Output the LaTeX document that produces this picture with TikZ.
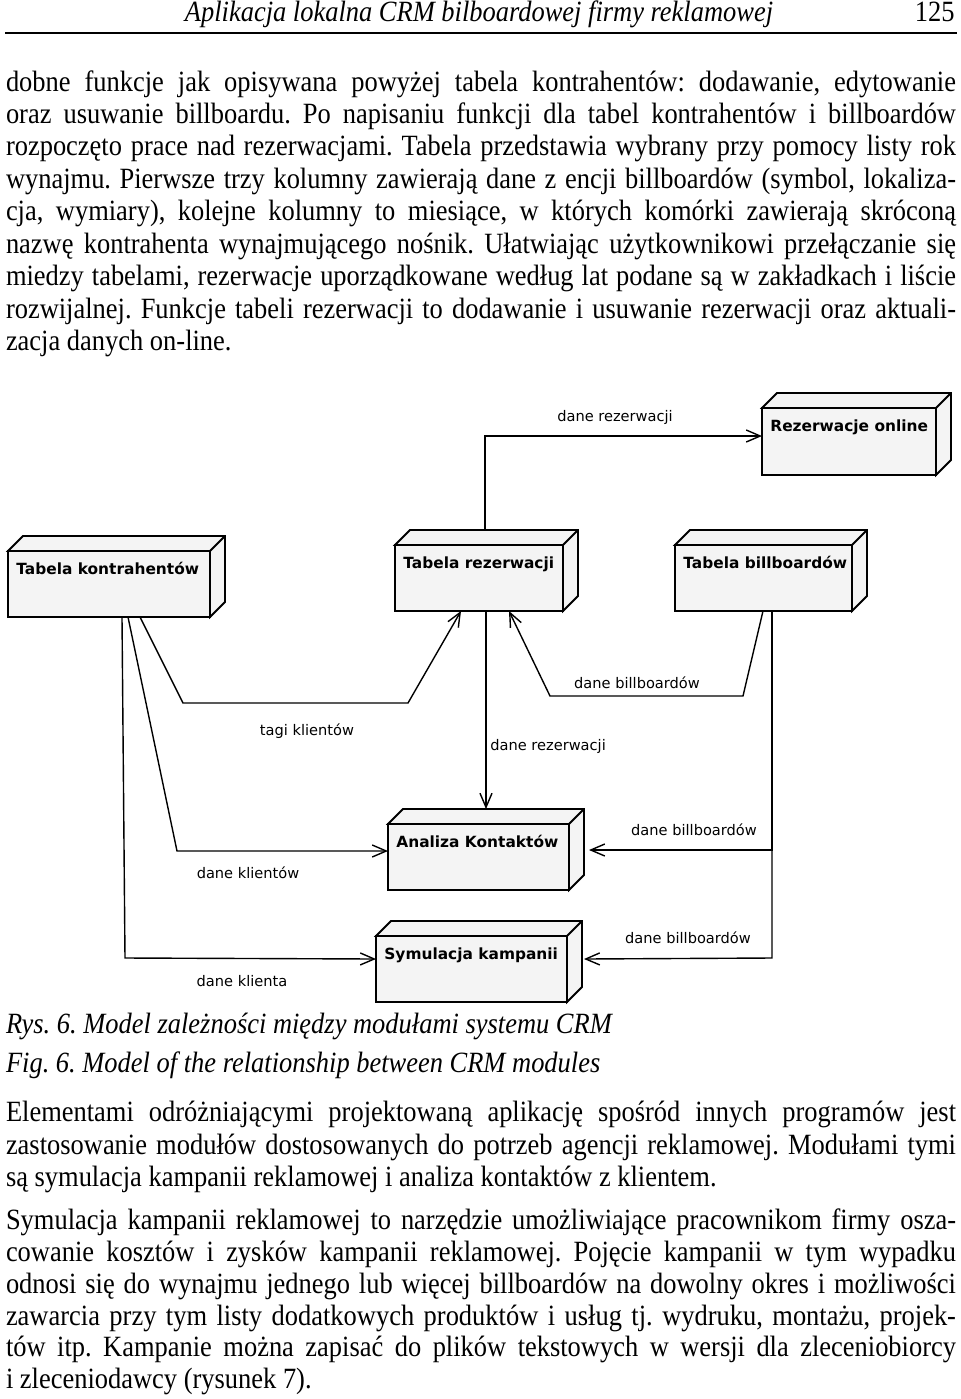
\documentclass[tikz,border=0pt]{standalone}
\usepackage{graphicx}
\usepackage{fontspec}
\setmainfont{Liberation Serif}[FakeStretch=0.9]
\newfontfamily\diagfont{DejaVu Sans}
\usetikzlibrary{arrows.meta,calc,fit}
\frenchspacing
\newsavebox\lbox
\newcommand\jline[1]{\sbox\lbox{#1}\ifdim\wd\lbox>475pt\resizebox{475pt}{\height}{\usebox\lbox}\else\makebox[475pt][s]{#1}\fi}
\newcommand\depnode[6]{%
  \coordinate (#1-a) at (#2,#3);
  \coordinate (#1-b) at (#4,#5);
  \node[dfront, fit=(#1-a)(#1-b)] (#1) {};
  \draw[dface] (#1.north west) -- ++(15,-15) -- ($(#1.north east)+(15,-15)$) -- ($(#1.south east)+(15,-15)$) -- (#1.south east) -- (#1.north east) -- cycle;
  \draw[dedge] (#1.north east) -- ++(15,-15);
  \node[dtitle] (#1-t) at ($(#1.north west)+(8,23)$) {#6};
}
\begin{document}
\frenchspacing
\begin{tikzpicture}[x=0.5pt,y=-0.5pt,
  bodyline/.style={anchor=base west, inner sep=0pt, outer sep=0pt, font=\fontsize{14.7pt}{16pt}\selectfont},
  dfront/.style={draw, fill=boxfill, line width=0.9pt, inner sep=0pt, outer sep=0pt},
  dface/.style={draw, fill=boxfill, line width=0.9pt, line join=miter},
  dedge/.style={draw, line width=0.9pt},
  dtitle/.style={anchor=base west, inner sep=0pt, font=\diagfont\bfseries\fontsize{7.7pt}{9pt}\selectfont},
  dlabel/.style={anchor=base, inner sep=0pt, font=\diagfont\fontsize{7.3pt}{9pt}\selectfont},
  dep/.style={draw, line width=0.7pt, -{Straight Barb[length=7pt,width=6pt]}}
]
\definecolor{boxfill}{RGB}{244,244,244}
\useasboundingbox (0,0) rectangle (960,1399);
\fill[white] (0,0) rectangle (960,1399);

% header
\node[anchor=base, inner sep=0pt, font=\fontsize{14.7pt}{16pt}\selectfont\itshape] (hdr) at (479,21) {Aplikacja lokalna CRM bilboardowej firmy reklamowej};
\node[anchor=base east, inner sep=0pt, font=\fontsize{14.7pt}{16pt}\selectfont] (pgno) at (955,21) {125};
\draw[line width=1.2pt] (5,33) -- (957,33);

% paragraph 1
\node[bodyline] (a1) at (6,91) {\jline{dobne funkcje jak opisywana powyżej tabela kontrahentów: dodawanie, edytowanie}};
\node[bodyline] (a2) at (6,123.3) {\jline{oraz usuwanie billboardu. Po napisaniu funkcji dla tabel kontrahentów i billboardów}};
\node[bodyline] (a3) at (6,155.8) {\jline{rozpoczęto prace nad rezerwacjami. Tabela przedstawia wybrany przy pomocy listy rok}};
\node[bodyline] (a4) at (6,188.3) {\jline{wynajmu. Pierwsze trzy kolumny zawierają dane z encji billboardów (symbol, lokaliza-}};
\node[bodyline] (a5) at (6,220.8) {\jline{cja, wymiary), kolejne kolumny to miesiące, w których komórki zawierają skróconą}};
\node[bodyline] (a6) at (6,253.3) {\jline{nazwę kontrahenta wynajmującego nośnik. Ułatwiając użytkownikowi przełączanie się}};
\node[bodyline] (a7) at (6,285.8) {\jline{miedzy tabelami, rezerwacje uporządkowane według lat podane są w zakładkach i liście}};
\node[bodyline] (a8) at (6,318.3) {\jline{rozwijalnej. Funkcje tabeli rezerwacji to dodawanie i usuwanie rezerwacji oraz aktuali-}};
\node[bodyline] (a9) at (6,350.8) {zacja danych on-line.};

% diagram nodes
\depnode{onl}{762}{408}{936}{475}{Rezerwacje online}
\depnode{kon}{8}{551}{210}{617}{Tabela kontrahentów}
\depnode{rez}{395}{545}{563}{611}{Tabela rezerwacji}
\depnode{bil}{675}{545}{852}{611}{Tabela billboardów}
\depnode{ana}{388}{824}{569}{890}{Analiza Kontaktów}
\depnode{sym}{376}{936}{567}{1002}{Symulacja kampanii}

% connectors
\draw[dep] ($(rez.north west)+(90,-15)$) -- (485,436) -- ($(onl.north west)+(0,28)$);
\draw[dep] ($(kon.south west)+(132,0)$) -- (183,703) -- (408,703) -- ($(rez.south west)+(66,0)$);
\draw[dep] ($(bil.south west)+(88,0)$) -- (743,696) -- (550,696) -- ($(rez.south west)+(114,0)$);
\draw[dep] ($(rez.south west)+(91,0)$) -- ($(ana.north west)+(98,-15)$);
\draw[dep] ($(kon.south west)+(120,0)$) -- (177,851) -- ($(ana.north west)+(0,27)$);
\draw[dep] ($(kon.south west)+(114,0)$) -- (125,958) -- ($(sym.north west)+(0,23)$);
\draw[dep] ($(bil.south west)+(97,0)$) -- (772,850) -- ($(ana.north east)+(20,26)$);
\draw[dep] ($(bil.south west)+(97,0)$) -- (772,958) -- ($(sym.north east)+(17,23)$);

% connector labels
\node[dlabel] (l1) at (615,421.7) {dane rezerwacji};
\node[dlabel] (l2) at (307,735) {tagi klientów};
\node[dlabel] (l3) at (637,688) {dane billboardów};
\node[dlabel, anchor=base west] (l4) at (490,750) {dane rezerwacji};
\node[dlabel] (l5) at (248,878.3) {dane klientów};
\node[dlabel] (l6) at (242,986) {dane klienta};
\node[dlabel] (l7) at (694,835.7) {dane billboardów};
\node[dlabel] (l8) at (688,943.3) {dane billboardów};

% caption
\node[bodyline, font=\fontsize{14.7pt}{16pt}\selectfont\itshape] (c1) at (6,1033.3) {Rys. 6. Model zależności między modułami systemu CRM};
\node[bodyline, font=\fontsize{14.7pt}{16pt}\selectfont\itshape] (c2) at (6,1072.7) {Fig. 6. Model of the relationship between CRM modules};

% paragraph 2
\node[bodyline] (b1) at (6,1121.7) {\jline{Elementami odróżniającymi projektowaną aplikację spośród innych programów jest}};
\node[bodyline] (b2) at (6,1154) {\jline{zastosowanie modułów dostosowanych do potrzeb agencji reklamowej. Modułami tymi}};
\node[bodyline] (b3) at (6,1186) {są symulacja kampanii reklamowej i analiza kontaktów z klientem.};

% paragraph 3
\node[bodyline] (d1) at (6,1229.3) {\jline{Symulacja kampanii reklamowej to narzędzie umożliwiające pracownikom firmy osza-}};
\node[bodyline] (d2) at (6,1261.7) {\jline{cowanie kosztów i zysków kampanii reklamowej. Pojęcie kampanii w tym wypadku}};
\node[bodyline] (d3) at (6,1293.3) {\jline{odnosi się do wynajmu jednego lub więcej billboardów na dowolny okres i możliwości}};
\node[bodyline] (d4) at (6,1325) {\jline{zawarcia przy tym listy dodatkowych produktów i usług tj. wydruku, montażu, projek-}};
\node[bodyline] (d5) at (6,1356) {\jline{tów itp. Kampanie można zapisać do plików tekstowych w wersji dla zleceniobiorcy}};
\node[bodyline] (d6) at (6,1388.3) {i zleceniodawcy (rysunek 7).};
\end{tikzpicture}
\end{document}
